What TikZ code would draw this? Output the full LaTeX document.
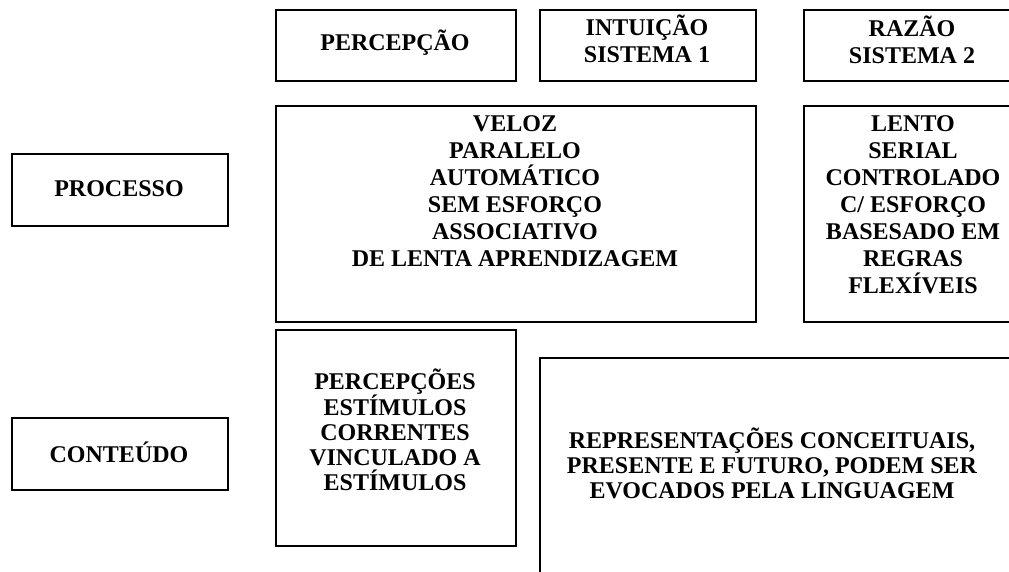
\documentclass[tikz,border=0pt]{standalone}
\usepackage{fontspec}
\setmainfont{Liberation Serif}

\begin{document}
\begin{tikzpicture}[x=1pt, y=-1pt,
        box/.style={draw, line width=2pt, anchor=north west, inner sep=0pt},
        txt/.style={align=center, inner sep=0pt, font=\fontsize{24}{27}\selectfont\bfseries},
        txtb/.style={txt, font=\fontsize{24}{25}\selectfont\bfseries}]
        \useasboundingbox (0, 0) rectangle (1009, 571);
        \clip (0, 0) rectangle (1009, 571);

        \node[box, minimum width=240pt, minimum height=71pt] (percepcao) at (275, 9) {};
        \node[box, minimum width=216pt, minimum height=71pt] (intuicao) at (539, 9) {};
        \node[box, minimum width=218pt, minimum height=71pt] (razao) at (803, 9) {};
        \node[box, minimum width=480pt, minimum height=216pt] (veloz) at (275, 105) {};
        \node[box, minimum width=218pt, minimum height=216pt] (lento) at (803, 105) {};
        \node[box, minimum width=216pt, minimum height=72pt] (processo) at (11, 153) {};
        \node[box, minimum width=240pt, minimum height=216pt] (percepcoes) at (275, 329) {};
        \node[box, minimum width=480pt, minimum height=260pt] (conceitos) at (539, 357) {};
        \node[box, minimum width=216pt, minimum height=72pt] (conteudo) at (11, 417) {};

        \node[txt] (percepcaot) at (395, 43) {PERCEPÇÃO};
        \node[txt] (intuicaot) at (647, 39) {INTUIÇÃO\\SISTEMA 1};
        \node[txt] (razaot) at (912, 40) {RAZÃO\\SISTEMA 2};
        \node[txt] (processot) at (119, 189) {PROCESSO};
        \node[txt] (velozt) at (515, 191) {VELOZ\\PARALELO\\AUTOMÁTICO\\SEM ESFORÇO\\ASSOCIATIVO\\DE LENTA APRENDIZAGEM};
        \node[txt] (lentot) at (913, 205) {LENTO\\SERIAL\\CONTROLADO\\C/ ESFORÇO\\BASESADO EM\\REGRAS\\FLEXÍVEIS};
        \node[txtb] (percepcoest) at (395, 430) {PERCEPÇÕES\\ESTÍMULOS\\CORRENTES\\VINCULADO A\\ESTÍMULOS};
        \node[txtb] (conceitost) at (772, 463) {REPRESENTAÇÕES CONCEITUAIS,\\PRESENTE E FUTURO, PODEM SER\\EVOCADOS PELA LINGUAGEM};
        \node[txt] (conteudot) at (119, 452) {CONTEÚDO};
\end{tikzpicture}
\end{document}
